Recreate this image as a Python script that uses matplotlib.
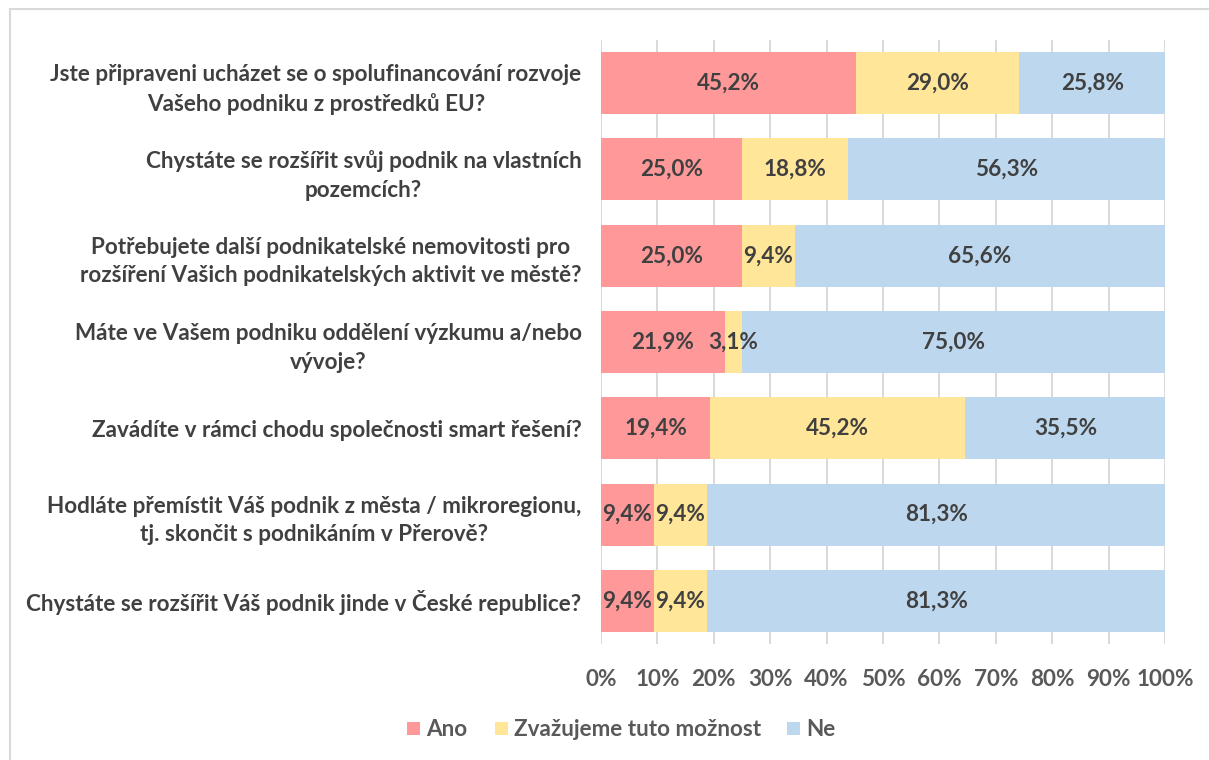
import matplotlib
matplotlib.use("Agg")
import matplotlib.pyplot as plt
from matplotlib.patches import Rectangle
import numpy as np

plt.rcParams.update({"font.family": ["Lato", "DejaVu Sans"], "font.weight": "bold"})

questions = [
    "Jste připraveni ucházet se o spolufinancování rozvoje\nVašeho podniku z prostředků EU?",
    "Chystáte se rozšířit svůj podnik na vlastních\npozemcích?",
    "Potřebujete další podnikatelské nemovitosti pro\nrozšíření Vašich podnikatelských aktivit ve městě?",
    "Máte ve Vašem podniku oddělení výzkumu a/nebo\nvývoje?",
    "Zavádíte v rámci chodu společnosti smart řešení?",
    "Hodláte přemístit Váš podnik z města / mikroregionu,\ntj. skončit s podnikáním v Přerově?",
    "Chystáte se rozšířit Váš podnik jinde v České republice?",
]
ano = [45.2, 25.0, 25.0, 21.9, 19.4, 9.4, 9.4]
zvazujeme = [29.0, 18.8, 9.4, 3.1, 45.2, 9.4, 9.4]
ne = [25.8, 56.3, 65.6, 75.0, 35.5, 81.3, 81.3]
series = ["Ano", "Zvažujeme tuto možnost", "Ne"]
ticks = [0, 10, 20, 30, 40, 50, 60, 70, 80, 90, 100]

colors = ["#FF9999", "#FFE699", "#BDD7EE"]
dark = "#404040"
grey = "#595959"
fs = 16.2
W, H = 1209, 760

fig = plt.figure(figsize=(W / 100, H / 100), dpi=100)
ax = fig.add_axes([601 / W, 1 - 644 / H, 564 / W, 604 / H])

y = np.arange(len(questions))
left = np.zeros(len(questions))
for name, vals, col in zip(series, [ano, zvazujeme, ne], colors):
    vals = np.array(vals)
    ax.barh(y, vals, left=left, height=0.72, color=col, label=name, zorder=2)
    for yi, l, v in zip(y, left, vals):
        ax.text(l + v / 2, yi, f"{v:.1f}%".replace(".", ","), ha="center", va="center",
                fontsize=fs, fontweight="bold", color=dark, zorder=3)
    left = left + vals

ax.set_xlim(0, 100)
ax.set_ylim(len(questions) - 0.5, -0.5)
ax.set_xticks(ticks)
ax.set_xticklabels([f"{t}%" for t in ticks], fontsize=fs, fontweight="bold", color=grey)
ax.set_yticks(y)
ax.set_yticklabels(questions, fontsize=fs, fontweight="bold", color=dark,
                   multialignment="center", linespacing=1.45)
ax.tick_params(axis="both", length=0)
ax.tick_params(axis="x", pad=18)
ax.tick_params(axis="y", pad=14)
for s in ax.spines.values():
    s.set_visible(False)
ax.grid(axis="x", color="#D9D9D9", lw=1.4, zorder=1)
ax.set_axisbelow(True)

# legend row: colour square + label, laid out left to right
leg_x = [407, 495, 787]
for x0, name, col in zip(leg_x, series, colors):
    fig.add_artist(Rectangle((x0 / W, 1 - 735 / H), 13 / W, 13 / H, transform=fig.transFigure,
                             facecolor=col, edgecolor="none"))
    fig.text((x0 + 19) / W, 1 - 729 / H, name, ha="left", va="center", fontsize=fs,
             fontweight="bold", color=grey)

# chart-area frame (only top and left edges fall inside the image)
fig.add_artist(Rectangle((9.5 / W, -0.1), 1.2, 1.1 - 9.5 / H, transform=fig.transFigure,
                         fill=False, edgecolor="#D9D9D9", lw=1.5))

fig.savefig("out.png", dpi=100, facecolor="white")
